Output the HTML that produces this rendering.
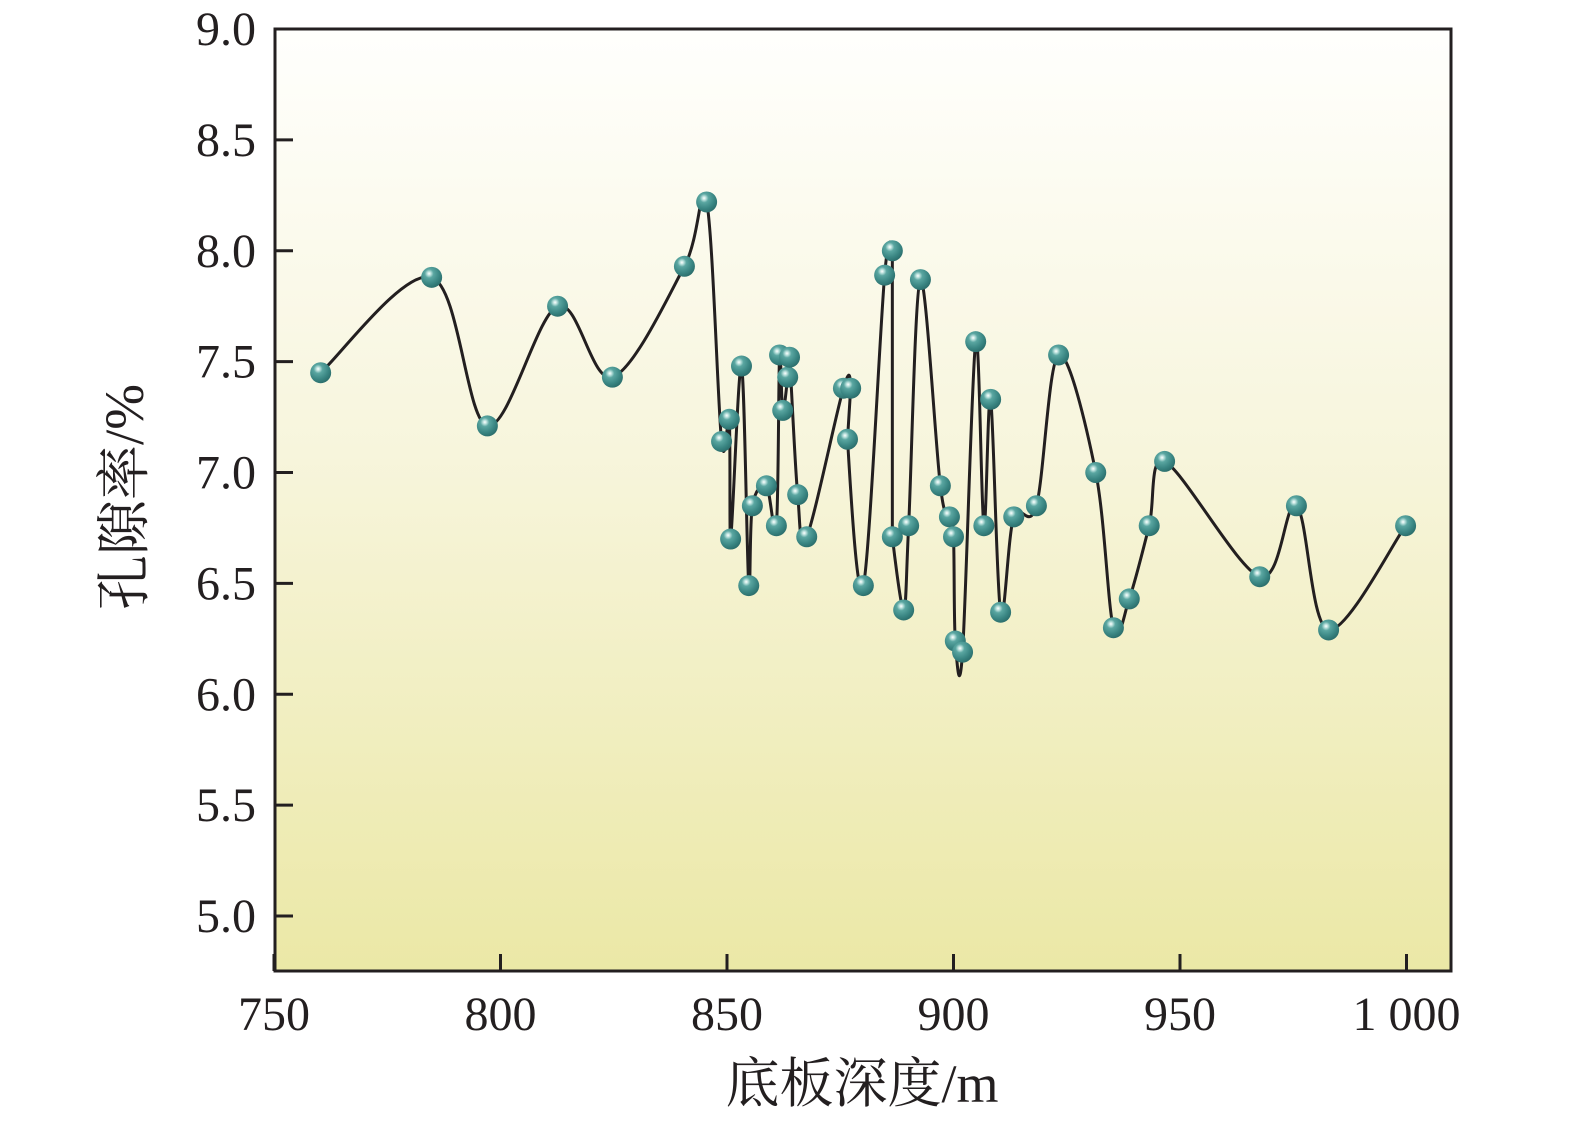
<!DOCTYPE html>
<html><head><meta charset="utf-8">
<style>
html,body{margin:0;padding:0;background:#fff;}
svg{display:block;}
text{font-family:"Liberation Serif","Noto Serif CJK SC",serif;fill:#231f20;}
</style></head>
<body>
<svg id="chart" width="1575" height="1125" viewBox="0 0 1575 1125" xmlns="http://www.w3.org/2000/svg">
<defs>
<linearGradient id="bg" x1="0" y1="0" x2="0" y2="1">
<stop offset="0" stop-color="#fffffd"/>
<stop offset="0.45" stop-color="#f7f5dc"/>
<stop offset="1" stop-color="#ebe8a6"/>
</linearGradient>
<radialGradient id="ball" cx="0.38" cy="0.32" r="0.7">
<stop offset="0" stop-color="#ffffff"/>
<stop offset="0.12" stop-color="#bfe3df"/>
<stop offset="0.3" stop-color="#5aa6a1"/>
<stop offset="0.7" stop-color="#3a8683"/>
<stop offset="1" stop-color="#2b6e6c"/>
</radialGradient>
</defs>
<rect x="275" y="29" width="1176" height="942" fill="url(#bg)"/>
<g id="ticks"></g>
<path id="line" fill="none" stroke="#231f20" stroke-width="3"/>
<g id="points"></g>
<rect x="275" y="29" width="1176" height="942" fill="none" stroke="#231f20" stroke-width="3"/>
<text x="862" y="1102" font-size="54" text-anchor="middle">底板深度/m</text>
<text transform="translate(143,497) rotate(-90)" font-size="55" text-anchor="middle">孔隙率/%</text>
</svg>
<script>
const depths=[760.3,784.8,797.1,812.6,824.7,840.6,845.5,848.8,850.5,850.8,853.2,854.8,855.6,858.7,860.9,861.6,862.3,863.4,863.8,865.6,867.6,875.7,877.3,876.6,880.1,884.8,886.5,886.5,889.0,890.1,892.7,897.1,899.1,900.0,900.4,902.0,904.9,906.7,908.2,910.4,913.3,918.3,923.2,931.4,935.3,938.8,943.2,946.6,967.6,975.7,982.8,999.8];
const porosity=[7.45,7.88,7.21,7.75,7.43,7.93,8.22,7.14,7.24,6.70,7.48,6.49,6.85,6.94,6.76,7.53,7.28,7.43,7.52,6.90,6.71,7.38,7.38,7.15,6.49,7.89,8.00,6.71,6.38,6.76,7.87,6.94,6.80,6.71,6.24,6.19,7.59,6.76,7.33,6.37,6.80,6.85,7.53,7.00,6.30,6.43,6.76,7.05,6.53,6.85,6.29,6.76];
const xTicks=[750,800,850,900,950,1000];
const xTickLabels=["750","800","850","900","950","1 000"];
const yTicks=[5.0,5.5,6.0,6.5,7.0,7.5,8.0,8.5,9.0];
const yTickLabels=["5.0","5.5","6.0","6.5","7.0","7.5","8.0","8.5","9.0"];

const X=v=>274+(v-750)*4.53;
const Y=v=>916-(v-5)*221.75;
const NS="http://www.w3.org/2000/svg";
const tg=document.getElementById('ticks');
xTicks.forEach((t,i)=>{
  const l=document.createElementNS(NS,'line');
  
  
  l.setAttribute('x1',X(t));l.setAttribute('x2',X(t));l.setAttribute('y1',971);l.setAttribute('y2',954);
  l.setAttribute('stroke','#231f20');l.setAttribute('stroke-width','3');
  tg.appendChild(l);
  const tx=document.createElementNS(NS,'text');
  
  
  tx.setAttribute('x',X(t));tx.setAttribute('y',1030);tx.setAttribute('font-size','48');tx.setAttribute('text-anchor','middle');
  tx.textContent=xTickLabels[i];
  tg.appendChild(tx);
});
yTicks.forEach((t,i)=>{
  const l=document.createElementNS(NS,'line');
  
  
  l.setAttribute('x1',275);l.setAttribute('x2',293);l.setAttribute('y1',Y(t));l.setAttribute('y2',Y(t));
  l.setAttribute('stroke','#231f20');l.setAttribute('stroke-width','3');
  tg.appendChild(l);
  const tx=document.createElementNS(NS,'text');
  
  
  tx.setAttribute('x',256);tx.setAttribute('y',Y(t)+16);tx.setAttribute('font-size','48');tx.setAttribute('text-anchor','end');
  tx.textContent=yTickLabels[i];
  tg.appendChild(tx);
});
const pts=depths.map((d,i)=>[X(d),Y(porosity[i])]);
function tangent(i){
  const n=pts.length;
  if(i>0&&Math.abs(pts[i][0]-pts[i-1][0])<0.5) return [0,0];
  if(i<n-1&&Math.abs(pts[i+1][0]-pts[i][0])<0.5) return [0,0];
  const p0=pts[Math.max(0,i-1)],p2=pts[Math.min(n-1,i+1)];
  return [(p2[0]-p0[0])/2,(p2[1]-p0[1])/2];
}
let d='M'+pts[0][0]+','+pts[0][1];
for(let i=0;i<pts.length-1;i++){
  const p1=pts[i],p2=pts[i+1];
  const dx=p2[0]-p1[0];
  let t1=tangent(i),t2=tangent(i+1);
  const lim=v=>{let s=1;const cx=Math.abs(v[0])/3;if(cx>dx&&cx>0)s=dx/cx;return [v[0]*s,v[1]*s];};
  t1=lim(t1);t2=lim(t2);
  if(dx<0.5){t1=[0,0];t2=[0,0];}
  const c1=[p1[0]+t1[0]/3,p1[1]+t1[1]/3];
  const c2=[p2[0]-t2[0]/3,p2[1]-t2[1]/3];
  d+=' C'+c1[0]+','+c1[1]+' '+c2[0]+','+c2[1]+' '+p2[0]+','+p2[1];
}
document.getElementById('line').setAttribute('d',d);
const pg=document.getElementById('points');
pts.forEach(p=>{
  const c=document.createElementNS(NS,'circle');
  
  
  c.setAttribute('cx',p[0]);c.setAttribute('cy',p[1]);c.setAttribute('r',10.5);
  c.setAttribute('fill','url(#ball)');
  pg.appendChild(c);
});
</script>
</body></html>
